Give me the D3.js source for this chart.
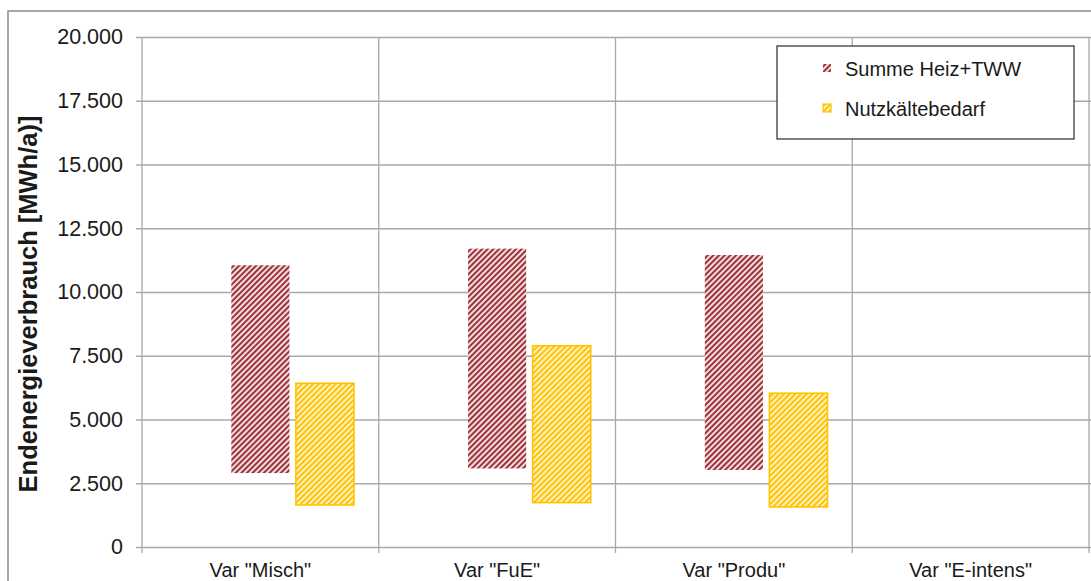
<!DOCTYPE html>
<html>
<head>
<meta charset="utf-8">
<script src="https://cdn.jsdelivr.net/npm/d3@7"></script>
<style>
  html, body { margin: 0; padding: 0; background: #fff; }
  svg { display: block; font-family: "Liberation Sans", Arial, sans-serif; }
</style>
</head>
<body>
<svg id="chart" width="1091" height="581"></svg>
<script>
// Categories and floating range bars (lower / upper end, MWh/a)
const categories = ['Var "Misch"', 'Var "FuE"', 'Var "Produ"', 'Var "E-intens"'];
const heatLow  = [2900, 3080, 3020, null];
const heatHigh = [11050, 11700, 11450, null];
const coolLow  = [1650, 1740, 1570, null];
const coolHigh = [6420, 7890, 6030, null];
const yTicks = [0, 2500, 5000, 7500, 10000, 12500, 15000, 17500, 20000];
const seriesNames = ["Summe Heiz+TWW", "Nutzkältebedarf"];
const yTitle = "Endenergieverbrauch [MWh/a)]";

const de = d3.formatLocale({ decimal: ",", thousands: ".", grouping: [3], currency: ["", " €"] });
const fmt = de.format(",");

const svg = d3.select("#chart");
const plot = { left: 142, right: 1089, top: 37, bottom: 547 };

const x = d3.scaleBand().domain(categories).range([plot.left, plot.right]).padding(0);
const y = d3.scaleLinear().domain([0, 20000]).range([plot.bottom, plot.top]);
// three slots per category: first one stays empty (hidden base series)
const slots = ["base", "heat", "cool"];
const xs = d3.scaleBand().domain(slots)
  .range([24.75, x.bandwidth() - 24.75]).paddingInner(0.1).paddingOuter(0);

// hatch patterns
const defs = svg.append("defs");
function hatch(id, bg, fg) {
  const p = defs.append("pattern").attr("id", id)
    .attr("patternUnits", "userSpaceOnUse")
    .attr("width", 4).attr("height", 4)
    .attr("patternTransform", "rotate(45)");
  p.append("rect").attr("width", 4).attr("height", 4).attr("fill", bg);
  p.append("rect").attr("width", 2).attr("height", 4).attr("fill", fg);
}
hatch("hatchHeat", "#f4dcd9", "#9b3340");
hatch("hatchCool", "#fff0c8", "#ffc400");

// outer chart border
svg.append("rect").attr("x", 8).attr("y", 11).attr("width", 1100).attr("height", 600)
  .attr("fill", "none").attr("stroke", "#8a8a8a").attr("stroke-width", 1.5);

// horizontal gridlines + tick marks
const yAxis = d3.axisLeft(y).tickValues(yTicks).tickFormat(fmt)
  .tickSize(-(1091 - plot.left)).tickSizeOuter(0).tickPadding(19);
const gy = svg.append("g").attr("transform", `translate(${plot.left},0)`).call(yAxis);
gy.select(".domain").remove();
gy.selectAll(".tick line").attr("x1", -6).attr("stroke", "#a8a8a8").attr("stroke-width", 1.3);
gy.selectAll(".tick text").attr("font-size", 21.5).attr("fill", "#1a1a1a");

// vertical category separators
const bounds = categories.map(c => x(c)).concat([plot.right]);
svg.append("g").selectAll("line").data(bounds).join("line")
  .attr("x1", d => d).attr("x2", d => d)
  .attr("y1", plot.top).attr("y2", plot.bottom + 6)
  .attr("stroke", "#a8a8a8").attr("stroke-width", 1.3);

// category labels
svg.append("g").selectAll("text").data(categories).join("text")
  .attr("x", d => x(d) + x.bandwidth() / 2).attr("y", 577)
  .attr("text-anchor", "middle").attr("font-size", 20).attr("fill", "#1a1a1a")
  .text(d => d);

// y axis title
svg.append("text")
  .attr("transform", `translate(37,304) rotate(-90)`)
  .attr("text-anchor", "middle").attr("font-size", 25.5).attr("font-weight", "bold")
  .attr("fill", "#1a1a1a").text(yTitle);

// bars
const heatData = categories.map((c, i) => ({ c, lo: heatLow[i], hi: heatHigh[i] })).filter(d => d.lo != null);
const coolData = categories.map((c, i) => ({ c, lo: coolLow[i], hi: coolHigh[i] })).filter(d => d.lo != null);

svg.append("g").selectAll("rect").data(heatData).join("rect")
  .attr("x", d => x(d.c) + xs("heat")).attr("width", xs.bandwidth())
  .attr("y", d => y(d.hi)).attr("height", d => y(d.lo) - y(d.hi))
  .attr("fill", "url(#hatchHeat)");

svg.append("g").selectAll("rect").data(coolData).join("rect")
  .attr("x", d => x(d.c) + xs("cool")).attr("width", xs.bandwidth())
  .attr("y", d => y(d.hi)).attr("height", d => y(d.lo) - y(d.hi))
  .attr("fill", "url(#hatchCool)").attr("stroke", "#ffc400").attr("stroke-width", 1.6);

// legend
const lg = svg.append("g");
lg.append("rect").attr("x", 777).attr("y", 46).attr("width", 297).attr("height", 93)
  .attr("fill", "#fff").attr("stroke", "#2a2a2a").attr("stroke-width", 1.2);
const items = [
  { name: seriesNames[0], fill: "url(#hatchHeat)", stroke: "none", cy: 68.5 },
  { name: seriesNames[1], fill: "url(#hatchCool)", stroke: "#ffc400", cy: 108.5 }
];
const li = lg.selectAll("g.item").data(items).join("g").attr("class", "item");
li.append("rect").attr("x", 823).attr("y", d => d.cy - 4.5).attr("width", 8).attr("height", 8)
  .attr("fill", d => d.fill).attr("stroke", d => d.stroke).attr("stroke-width", 1.2);
li.append("text").attr("x", 845).attr("y", d => d.cy + 7.5)
  .attr("font-size", 20).attr("fill", "#1a1a1a").text(d => d.name);
</script>
</body>
</html>
